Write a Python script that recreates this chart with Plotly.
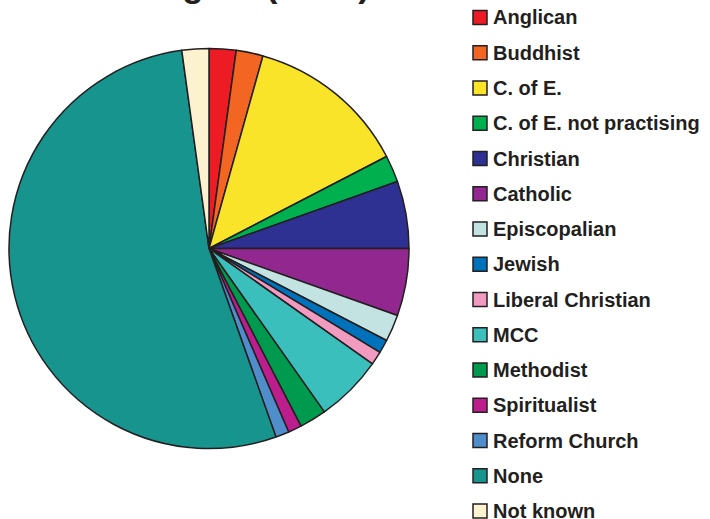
import plotly.graph_objects as go

categories = ["Anglican", "Buddhist", "C. of E.", "C. of E. not practising", "Christian",
              "Catholic", "Episcopalian", "Jewish", "Liberal Christian", "MCC",
              "Methodist", "Spiritualist", "Reform Church", "None", "Not known"]
counts = [2, 2, 12, 2, 5, 5, 2, 1, 1, 5, 2, 1, 1, 49, 2]
colors = ["#ED1C24", "#F26522", "#F9E42A", "#00B04F", "#2E3192",
          "#92278F", "#C2E3E1", "#0072BC", "#F19BC0", "#3BBFBC",
          "#009A4E", "#BC1E8D", "#4F8ECB", "#17948E", "#FCF2CF"]
title_text = "Religion (n=%d)" % sum(counts)

W, H = 710, 519
EDGE = "#231F20"

fig = go.Figure()
fig.add_trace(go.Pie(
    labels=categories, values=counts, sort=False, direction="clockwise", rotation=0,
    marker=dict(colors=colors, line=dict(color=EDGE, width=1.5)),
    textinfo="none", hoverinfo="label+value", showlegend=False,
    domain=dict(x=[9 / W, 409 / W], y=[1 - 448.5 / H, 1 - 48.5 / H]),
))

shapes = []
annotations = []
row0, step = 17.5, 35.25
for i, (cat, col) in enumerate(zip(categories, colors)):
    cy = row0 + i * step
    shapes.append(dict(type="rect", xref="paper", yref="paper",
                       x0=473 / W, x1=487 / W, y0=1 - (cy - 7) / H, y1=1 - (cy + 7) / H,
                       fillcolor=col, line=dict(color=EDGE, width=1.5)))
    annotations.append(dict(x=491 / W, y=1 - cy / H, xref="paper", yref="paper",
                            text="<b>%s</b>" % cat, showarrow=False,
                            xanchor="left", yanchor="middle",
                            font=dict(family="Liberation Sans, Arial", size=20, color=EDGE)))

annotations.append(dict(x=244 / W, y=1, xref="paper", yref="paper", yshift=16,
                        text="<b>%s</b>" % title_text, showarrow=False,
                        xanchor="center", yanchor="middle",
                        font=dict(family="Liberation Sans, Arial", size=35, color=EDGE)))

fig.update_layout(width=W, height=H, margin=dict(l=0, r=0, t=0, b=0),
                  paper_bgcolor="white", plot_bgcolor="white",
                  shapes=shapes, annotations=annotations)
fig.write_html("out.html")
